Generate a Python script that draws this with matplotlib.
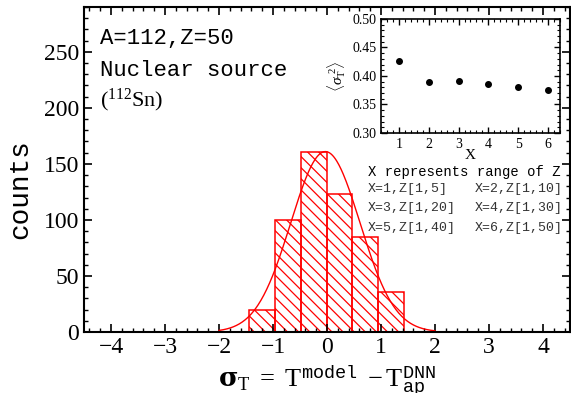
import numpy as np
import matplotlib
matplotlib.use("Agg")
import matplotlib.pyplot as plt
from matplotlib.ticker import MultipleLocator

# histogram of sigma_T for A=112, Z=50
bin_edges = [-1.44, -0.97, -0.49, 0.0, 0.47, 0.95, 1.42]
counts = [20, 100, 161, 123, 85, 36]

# gaussian fit drawn over the histogram
fit_amp = 161
fit_mu = -0.03
fit_sigma = 0.64
fit_range = (-2.0, 2.0)

# inset: <sigma_T^2> vs X
inset_x = [1, 2, 3, 4, 5, 6]
inset_sig2 = [0.426, 0.389, 0.391, 0.386, 0.381, 0.376]

legend_title = "X represents range of Z"
legend_rows = [("X=1,Z[1,5]", "X=2,Z[1,10]"),
               ("X=3,Z[1,20]", "X=4,Z[1,30]"),
               ("X=5,Z[1,40]", "X=6,Z[1,50]")]

plt.rcParams['font.family'] = ['Liberation Serif', 'DejaVu Serif']
plt.rcParams['mathtext.fontset'] = 'custom'
plt.rcParams['mathtext.rm'] = 'Liberation Serif'
plt.rcParams['mathtext.it'] = 'Liberation Serif:italic'
plt.rcParams['mathtext.bf'] = 'DejaVu Serif:bold'
plt.rcParams['mathtext.tt'] = 'Liberation Mono'
plt.rcParams['hatch.linewidth'] = 0.9
plt.rcParams['hatch.color'] = 'red'

W, H = 571, 393
fig = plt.figure(figsize=(W / 100, H / 100), dpi=100)

def px_axes(l, t, r, b):
    return [l / W, (H - b) / H, (r - l) / W, (b - t) / H]

ax = fig.add_axes(px_axes(84, 7, 570, 332))

widths = np.diff(bin_edges)
ax.bar(bin_edges[:-1], counts, width=widths, align='edge',
       facecolor='none', edgecolor='red', linewidth=1.1, hatch='\\\\\\')

xs = np.linspace(fit_range[0], fit_range[1], 300)
ax.plot(xs, fit_amp * np.exp(-(xs - fit_mu) ** 2 / (2 * fit_sigma ** 2)),
        color='red', lw=1.0)

ax.set_xlim(-4.5, 4.5)
ax.set_ylim(0, 290)
ax.xaxis.set_major_locator(MultipleLocator(1))
ax.xaxis.set_minor_locator(MultipleLocator(0.2))
ax.yaxis.set_major_locator(MultipleLocator(50))
ax.yaxis.set_minor_locator(MultipleLocator(10))
ax.tick_params(which='both', direction='in', top=True, right=True, labelsize=17)
ax.tick_params(which='major', length=6, width=1.2)
ax.tick_params(which='minor', length=3, width=1.0)
for s in ax.spines.values():
    s.set_linewidth(1.5)

ax.set_ylabel("counts", fontsize=20, family='Liberation Mono')
ax.yaxis.set_label_coords(-0.105, 0.44)

fig.text(0.5 * (84 + 570) / W, (H - 388) / H,
         r'$\mathbf{\sigma}_{\mathrm{T}}\ =\ \mathrm{T}^{\mathtt{model}}\ -\mathrm{T}^{\mathtt{DNN}}_{\mathtt{ap}}$',
         fontsize=19, ha='center', va='baseline')

txt_kw = dict(fontsize=16, family='Liberation Mono', va='center', ha='left')
fig.text(100 / W, (H - 39) / H, "A=112,Z=50", **txt_kw)
fig.text(100 / W, (H - 70) / H, "Nuclear source", **txt_kw)
fig.text(100 / W, (H - 100) / H, r"($^{112}$Sn)", fontsize=16, va='center', ha='left')

# legend for X
fig.text(368 / W, (H - 172) / H, legend_title, fontsize=10,
         family='Liberation Mono', va='center', ha='left')
for i, (a, b) in enumerate(legend_rows):
    y = (H - (189 + 19.5 * i)) / H
    fig.text(368 / W, y, a, fontsize=9.5, family='Liberation Mono',
             va='center', ha='left', color='#333333')
    fig.text(475 / W, y, b, fontsize=9.5, family='Liberation Mono',
             va='center', ha='left', color='#333333')

# inset
axi = fig.add_axes(px_axes(381, 19, 560, 133))
axi.plot(inset_x, inset_sig2, 'o', color='black', markersize=4)
axi.set_xlim(0.4, 6.4)
axi.set_ylim(0.30, 0.50)
axi.xaxis.set_major_locator(MultipleLocator(1))
axi.xaxis.set_minor_locator(MultipleLocator(0.2))
axi.yaxis.set_major_locator(MultipleLocator(0.05))
axi.yaxis.set_minor_locator(MultipleLocator(0.01))
axi.tick_params(which='both', direction='in', top=True, right=True, labelsize=10)
axi.tick_params(which='major', length=4, width=1.0)
axi.tick_params(which='minor', length=2, width=0.8)
for s in axi.spines.values():
    s.set_linewidth(1.2)
axi.set_xlabel("X", fontsize=11, labelpad=-1)
axi.set_ylabel(r'$\langle\sigma_{\mathrm{T}}^{\ 2}\rangle$', fontsize=11)
axi.yaxis.set_label_coords(-0.185, 0.5)

fig.savefig("out.png", dpi=100)
